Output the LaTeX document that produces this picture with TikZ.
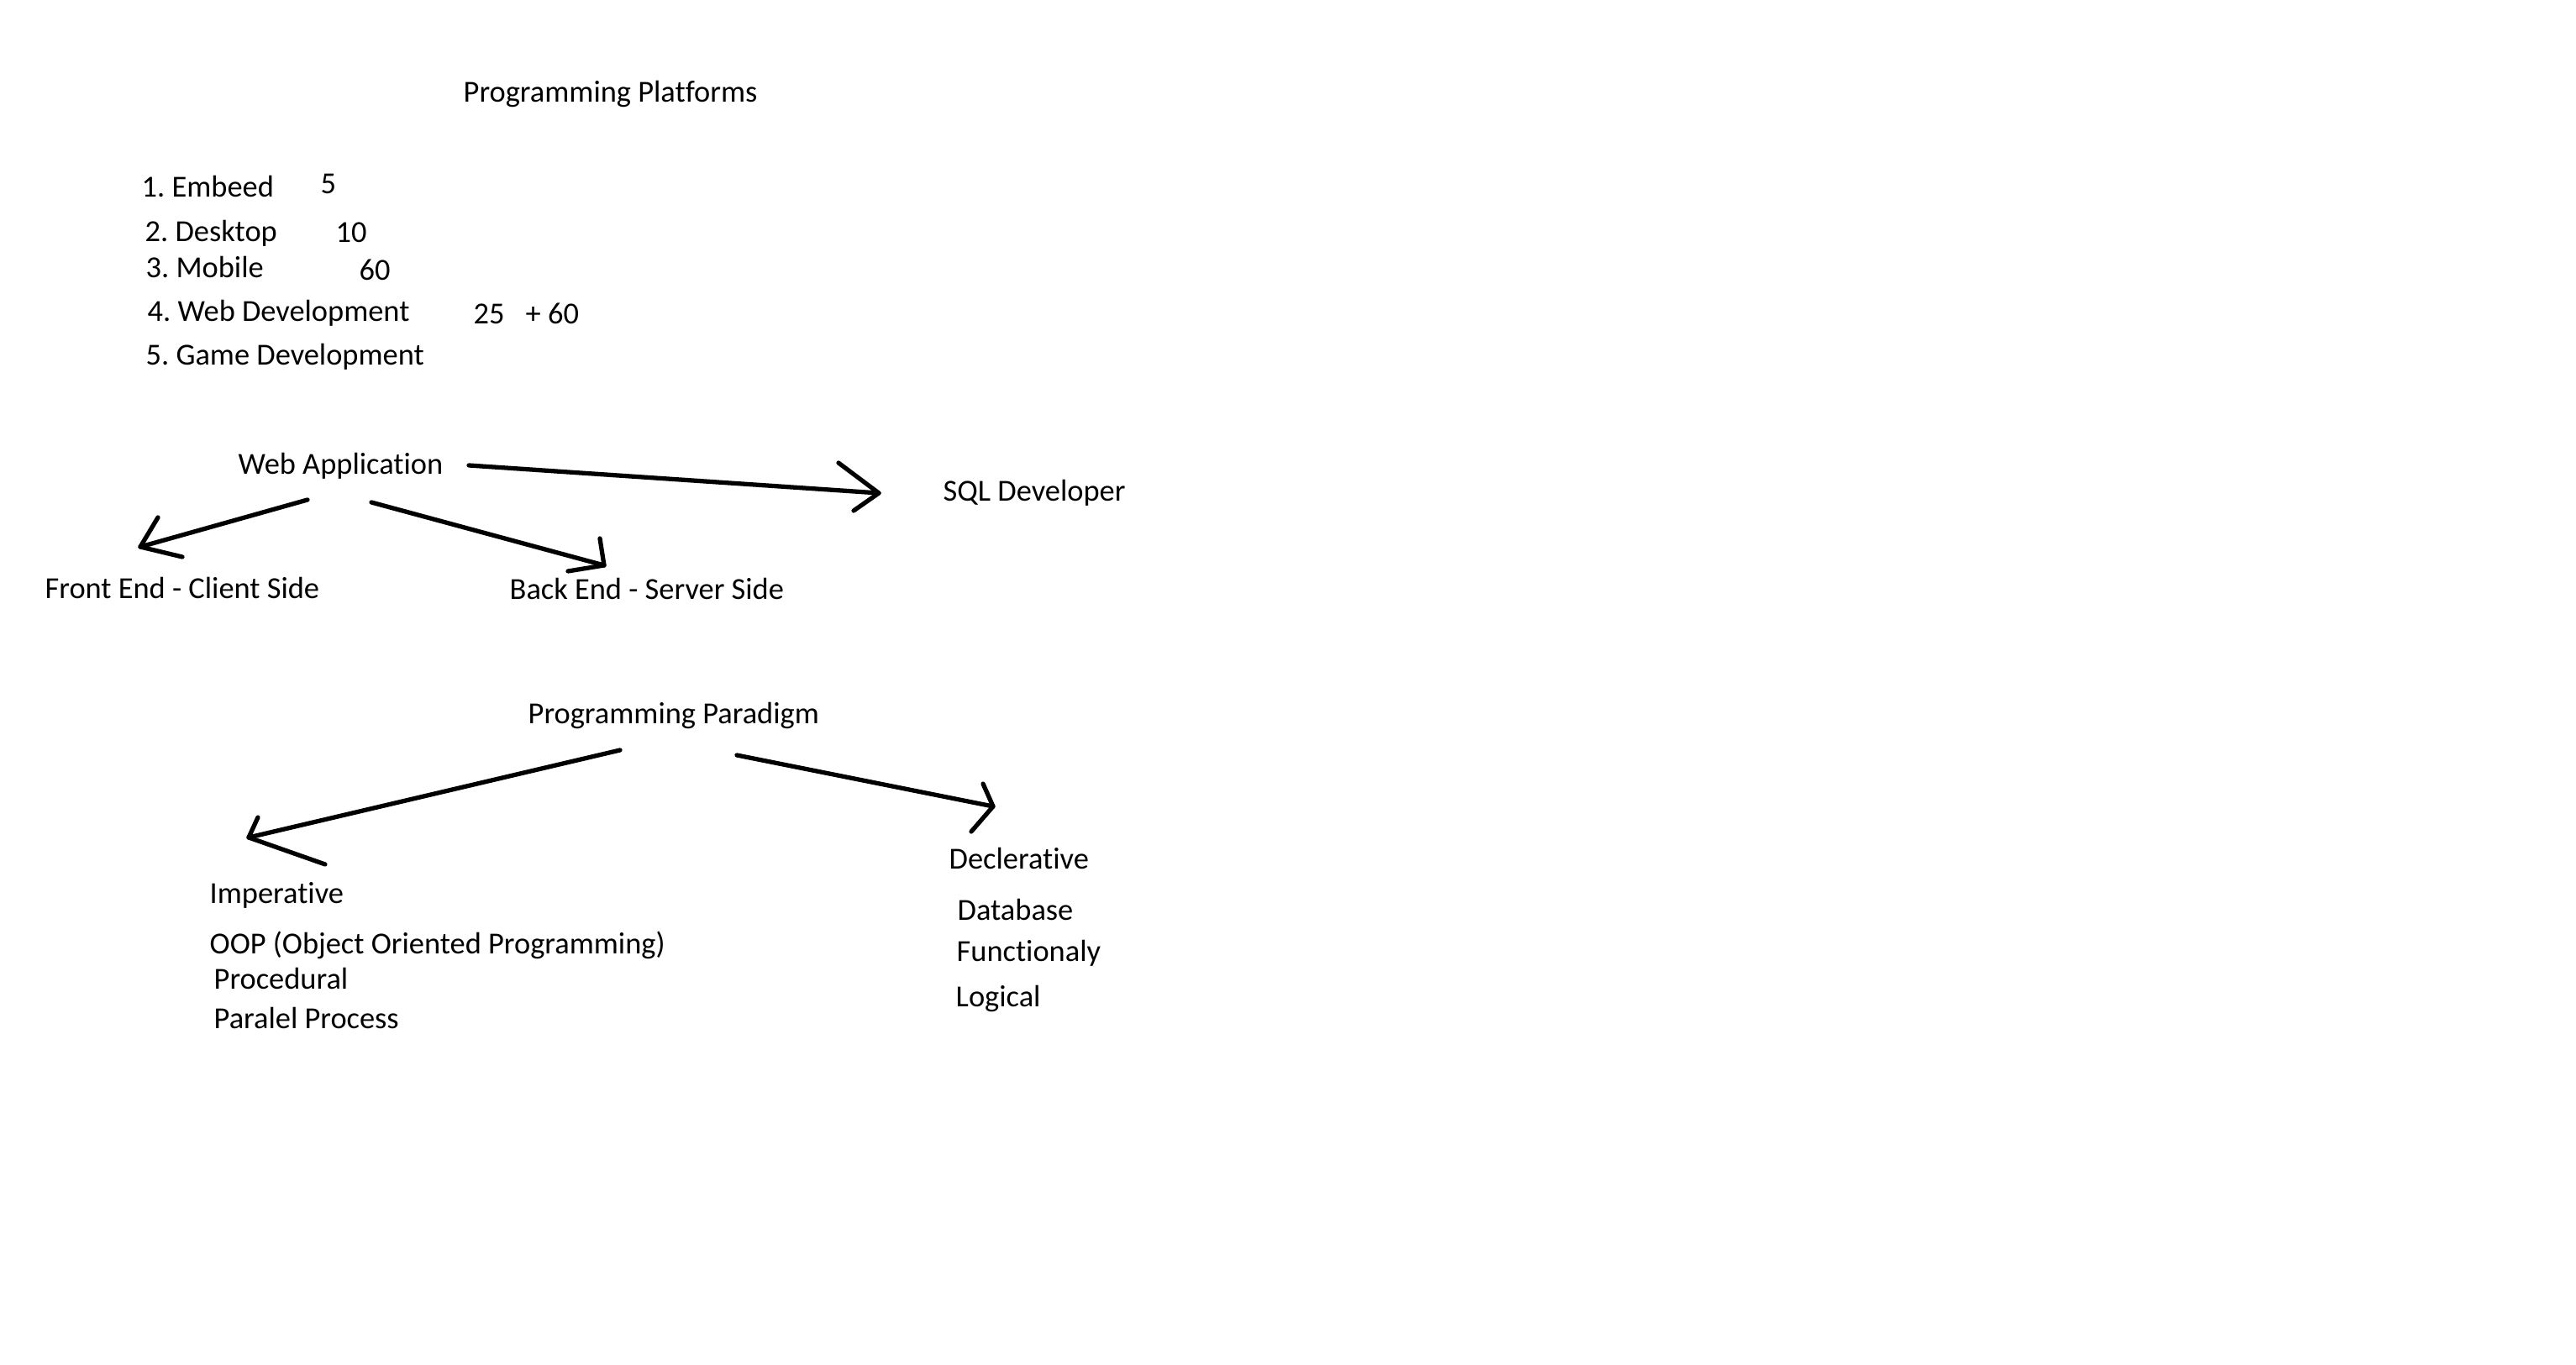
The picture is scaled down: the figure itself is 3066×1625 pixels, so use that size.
\documentclass[tikz,border=0pt]{standalone}
\usepackage{fontspec}
\setmainfont[RawFeature={-liga;-clig}]{Carlito}
\frenchspacing
\begin{document}
\begin{tikzpicture}[x=0.01cm,y=-0.01cm,
  lbl/.style={anchor=base west,inner sep=0pt,font=\fontsize{10.35}{12}\selectfont},
  pen/.style={line width=1.5pt,line cap=round,line join=round}]
\path[fill=white] (0,0) rectangle (3066,1625);
\useasboundingbox (0,0) rectangle (3066,1625);
% title and list
\node[lbl] (pp) at (551,122) {Programming Platforms};
\node[lbl] (l1) at (168,235) {1. Embeed};
\node[lbl] (n1) at (381,231) {5};
\node[lbl] (l2) at (172,288) {2. Desktop};
\node[lbl] (n2) at (399,289) {10};
\node[lbl] (l3) at (173,331) {3. Mobile};
\node[lbl] (n3) at (427,334) {60};
\node[lbl] (l4) at (175,383) {4. Web Development};
\node[lbl] (n4) at (563,386) {25};
\node[lbl] (n5) at (625,386) {+ 60};
\node[lbl] (l5) at (173,435) {5. Game Development};
% web application
\node[lbl] (wa) at (283,565) {Web Application};
\node[lbl] (sql) at (1122,597) {SQL Developer};
\node[lbl] (fe) at (53,713) {Front End - Client Side};
\node[lbl] (be) at (606,714) {Back End - Server Side};
% paradigm
\node[lbl] (pd) at (628,861) {Programming Paradigm};
\node[lbl] (imp) at (249,1075) {Imperative};
\node[lbl] (oop) at (249,1135) {OOP (Object Oriented Programming)};
\node[lbl] (proc) at (254,1177) {Procedural};
\node[lbl] (par) at (254,1224) {Paralel Process};
\node[lbl] (dec) at (1129,1034) {Declerative};
\node[lbl] (db) at (1139,1095) {Database};
\node[lbl] (fun) at (1138,1144) {Functionaly};
\node[lbl] (log) at (1137,1198) {Logical};
% connector end points
\coordinate (wa1) at (558,554);  \coordinate (sqlT) at (1046,587);
\coordinate (wa2) at (366,595);  \coordinate (feT) at (167,651);
\coordinate (wa3) at (442,598);  \coordinate (beT) at (719,673);
\coordinate (pd1) at (738,893);  \coordinate (impT) at (296,997);
\coordinate (pd2) at (877,899);  \coordinate (decT) at (1182,960);
% connectors
\draw[pen] (wa1) -- (sqlT);
\draw[pen] (998,551) -- (sqlT) -- (1016,608);
\draw[pen] (wa2) -- (feT);
\draw[pen] (188,616) -- (feT) -- (217,663);
\draw[pen] (wa3) -- (beT);
\draw[pen] (714,641) -- (beT) -- (676,680);
\draw[pen] (pd1) -- (impT);
\draw[pen] (307,973) -- (impT) -- (387,1029);
\draw[pen] (pd2) -- (decT);
\draw[pen] (1170,933) -- (decT) -- (1156,990);
\end{tikzpicture}
\end{document}
